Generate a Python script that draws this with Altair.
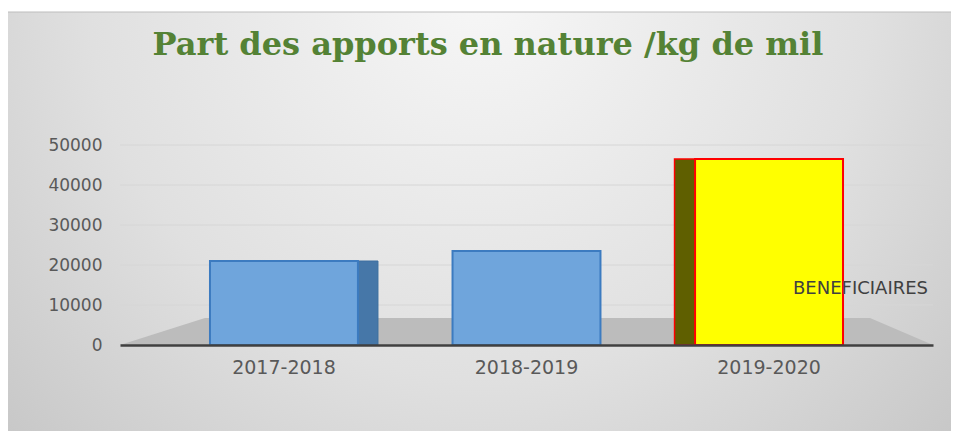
import altair as alt
import pandas as pd

# ---- data ----
categories = ["2017-2018", "2018-2019", "2019-2020"]
values = [21000, 23500, 46500]
y_ticks = [0, 10000, 20000, 30000, 40000, 50000]
series_name = "BENEFICIAIRES"
title_text = "Part des apports en nature /kg de mil"

front_colors = ["#6fa5dc", "#6fa5dc", "#ffff00"]
stroke_colors = ["#3c7bc0", "#3c7bc0", "#ff0000"]

df = pd.DataFrame({"periode": categories, "valeur": values})
ticks_df = pd.DataFrame({"valeur": y_ticks})
one = pd.DataFrame({"t": [title_text], "s": [series_name]})

W, H = 813, 200
PAD = {"left": 112, "top": 137, "right": 18, "bottom": 86}

x_enc = alt.X(
    "periode:N",
    sort=categories,
    scale=alt.Scale(paddingInner=0.39, paddingOuter=0.371),
    axis=alt.Axis(
        title=None, labelAngle=0, ticks=False, labelPadding=13,
        labelFont="DejaVu Sans", labelFontSize=19, labelColor="#595959",
        domainColor="#404040", domainWidth=2.5, zindex=1,
    ),
)
y_scale = alt.Scale(domain=[0, 50000], nice=False)
y_axis = alt.Axis(
    title=None, values=y_ticks, grid=False, domain=False, ticks=False,
    labelPadding=18, labelFont="DejaVu Sans", labelFontSize=17,
    labelColor="#595959", format="d", zindex=1,
)
y_enc = alt.Y("valeur:Q", scale=y_scale, axis=y_axis)

background = alt.Chart(one).mark_rect(
    fill={
        "gradient": "radial",
        "x1": 0.5, "y1": 0.25, "r1": 0,
        "x2": 0.5, "y2": 0.25, "r2": 0.75,
        "stops": [
            {"offset": 0, "color": "#f7f7f7"},
            {"offset": 0.55, "color": "#e0e0e0"},
            {"offset": 1, "color": "#c2c2c2"},
        ],
    },
    stroke="#bdbdbd", strokeWidth=1,
).encode(
    x=alt.value(-115), x2=alt.value(835),
    y=alt.value(-133), y2=alt.value(290),
)

grid = alt.Chart(ticks_df).mark_rule(color="#d6d6d6", strokeWidth=1).encode(
    y=y_enc
)

floor = alt.Chart(one).mark_point(
    shape="M-1,0 L1,0 L0.845,-0.0664 L-0.791,-0.0664 Z",
    filled=True, fill="#bcbcbc", opacity=1, strokeWidth=0,
).encode(
    x=alt.value(W / 2), y=alt.value(H), size=alt.value(W * W)
)

side_right = alt.Chart(df).transform_filter(
    alt.datum.periode == categories[0]
).mark_bar(width=20, xOffset=84, fill="#4677a8", stroke="#3c6e9f", strokeWidth=1).encode(
    x=x_enc, y=y_enc
)

side_left = alt.Chart(df).transform_filter(
    alt.datum.periode == categories[2]
).mark_bar(width=21, xOffset=-84, fill="#5f5f00", stroke="#ff0000", strokeWidth=1.5).encode(
    x=x_enc, y=y_enc
)

bars = alt.Chart(df).mark_bar(strokeWidth=2).encode(
    x=x_enc,
    y=y_enc,
    fill=alt.Fill("periode:N", scale=alt.Scale(domain=categories, range=front_colors), legend=None),
    stroke=alt.Stroke("periode:N", scale=alt.Scale(domain=categories, range=stroke_colors), legend=None),
)

title = alt.Chart(one).mark_text(
    font="DejaVu Serif", fontSize=32, fontWeight="bold", color="#548235",
    align="center", baseline="alphabetic",
).encode(text="t:N", x=alt.value(368), y=alt.value(-90))

legend_text = alt.Chart(one).mark_text(
    font="DejaVu Sans", fontSize=18, color="#404040",
    align="left", baseline="alphabetic",
).encode(text="s:N", x=alt.value(673), y=alt.value(149))

chart = alt.layer(
    background, grid, floor, side_right, side_left, bars, title, legend_text
).properties(
    width=W, height=H,
    padding=PAD,
    autosize=alt.AutoSizeParams(type="none"),
).configure_view(stroke=None).configure(background="white")

chart.save("out.html", embed_options={"renderer": "svg", "actions": False})
